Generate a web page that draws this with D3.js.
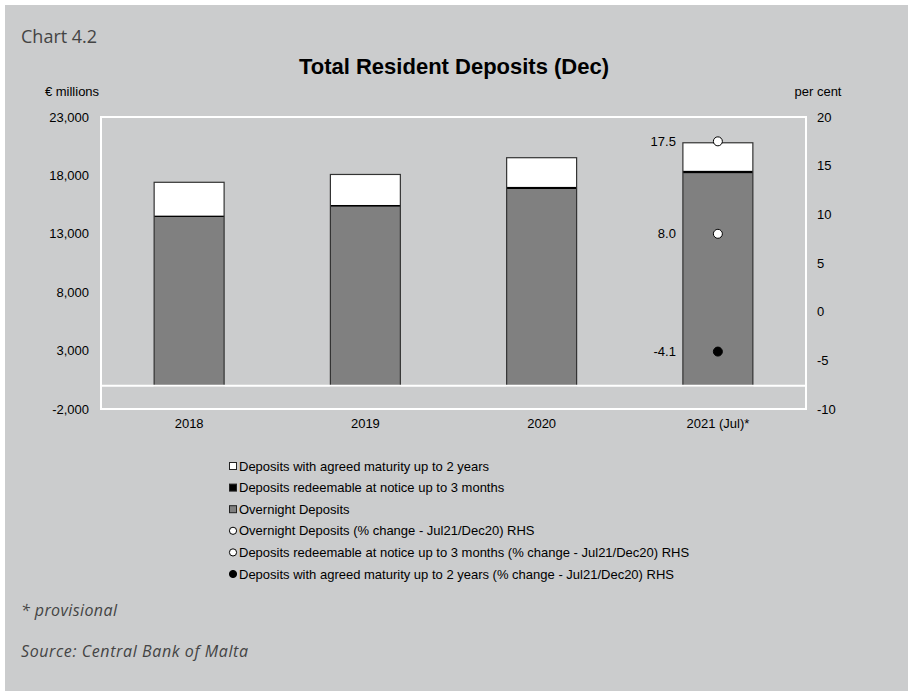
<!DOCTYPE html>
<html>
<head>
<meta charset="utf-8">
<script src="https://cdn.jsdelivr.net/npm/d3@7"></script>
<style>
  html, body { margin: 0; padding: 0; background: #ffffff; }
  svg { display: block; }
</style>
</head>
<body>
<svg id="chart" width="908" height="691"></svg>
<script>
// Categories and series (EUR millions, December positions; 2021 = July)
const categories = ["2018", "2019", "2020", "2021 (Jul)*"];
const overnight = [14440, 15320, 16835, 18182];
const redeemable = [130, 150, 190, 223];
const agreed = [2840, 2610, 2490, 2388];

// Percentage changes Jul21/Dec20 (right-hand scale), only shown for 2021
const pctOvernight = [null, null, null, 8.0];
const pctRedeemable = [null, null, null, 17.5];
const pctAgreed = [null, null, null, -4.1];

const leftTicks = [-2000, 3000, 8000, 13000, 18000, 23000];
const rightTicks = [-10, -5, 0, 5, 10, 15, 20];

const legendItems = [
  { label: "Deposits with agreed maturity up to 2 years", shape: "square", fill: "#ffffff" },
  { label: "Deposits redeemable at notice up to 3 months", shape: "square", fill: "#000000" },
  { label: "Overnight Deposits", shape: "square", fill: "#808080" },
  { label: "Overnight Deposits (% change - Jul21/Dec20) RHS", shape: "circle", fill: "#ffffff" },
  { label: "Deposits redeemable at notice up to 3 months (% change - Jul21/Dec20) RHS", shape: "circle", fill: "#ffffff" },
  { label: "Deposits with agreed maturity up to 2 years (% change - Jul21/Dec20) RHS", shape: "circle", fill: "#000000" }
];

const svg = d3.select("#chart");
const W = 908, H = 691;
const plot = { left: 101, right: 806, top: 117, bottom: 409 };
const font = "'Liberation Sans', Arial, sans-serif";
const brandFont = "'Open Sans', Lato, sans-serif";
const hyphen = s => s.replace(/\u2212/g, "-");

// Panel background
svg.append("rect").attr("x", 5).attr("y", 5).attr("width", W - 5).attr("height", H - 5)
  .attr("fill", "#cbcccd");

svg.append("text").attr("x", 21).attr("y", 43)
  .attr("font-family", brandFont).attr("font-size", 18).attr("fill", "#444444")
  .text("Chart 4.2");

svg.append("text").attr("x", 454).attr("y", 74).attr("text-anchor", "middle")
  .attr("font-family", font).attr("font-weight", "bold").attr("font-size", 22).attr("fill", "#000")
  .text("Total Resident Deposits (Dec)");

// Scales
const x = d3.scaleBand().domain(categories).range([plot.left, plot.right])
  .paddingInner(0.603).paddingOuter(0.3015);
const yL = d3.scaleLinear().domain([-2000, 23000]).range([plot.bottom, plot.top]);
const yR = d3.scaleLinear().domain([-10, 20]).range([plot.bottom, plot.top]);

// Plot frame
svg.append("rect").attr("x", plot.left).attr("y", plot.top)
  .attr("width", plot.right - plot.left).attr("height", plot.bottom - plot.top)
  .attr("fill", "none").attr("stroke", "#ffffff").attr("stroke-width", 2);

// Stacked bars
const rows = categories.map((c, i) => ({ cat: c, overnight: overnight[i], redeemable: redeemable[i], agreed: agreed[i] }));
const keys = ["overnight", "redeemable", "agreed"];
const fills = { overnight: "#808080", redeemable: "#000000", agreed: "#ffffff" };
const stacked = d3.stack().keys(keys)(rows);

svg.append("g").selectAll("g").data(stacked).join("g")
  .attr("fill", d => fills[d.key])
  .selectAll("rect").data(d => d).join("rect")
  .attr("x", d => x(d.data.cat))
  .attr("width", x.bandwidth())
  .attr("y", d => yL(d[1]))
  .attr("height", d => yL(d[0]) - yL(d[1]));

// Bar outlines
svg.append("g").selectAll("rect").data(rows).join("rect")
  .attr("x", d => x(d.cat))
  .attr("width", x.bandwidth())
  .attr("y", d => yL(d.overnight + d.redeemable + d.agreed))
  .attr("height", d => yL(0) - yL(d.overnight + d.redeemable + d.agreed))
  .attr("fill", "none").attr("stroke", "#333333").attr("stroke-width", 1.2);

// Zero line
svg.append("line").attr("x1", plot.left).attr("x2", plot.right)
  .attr("y1", yL(0)).attr("y2", yL(0))
  .attr("stroke", "#ffffff").attr("stroke-width", 2);

// Axes
const leftAxis = svg.append("g").attr("transform", `translate(${plot.left - 12},0)`)
  .call(d3.axisLeft(yL).tickValues(leftTicks).tickSize(0).tickPadding(0)
    .tickFormat(d => hyphen(d3.format(",")(d))));
const rightAxis = svg.append("g").attr("transform", `translate(${plot.right + 11},0)`)
  .call(d3.axisRight(yR).tickValues(rightTicks).tickSize(0).tickPadding(0)
    .tickFormat(d => hyphen(d3.format("d")(d))));
const bottomAxis = svg.append("g").attr("transform", `translate(0,${plot.bottom + 10})`)
  .call(d3.axisBottom(x).tickSize(0).tickPadding(0));
[leftAxis, rightAxis, bottomAxis].forEach(g => {
  g.select(".domain").remove();
  g.selectAll("text").attr("font-family", font).attr("font-size", 13).attr("fill", "#000");
});
bottomAxis.selectAll("text").attr("dy", "0.71em");

svg.append("text").attr("x", 72).attr("y", 96).attr("text-anchor", "middle")
  .attr("font-family", font).attr("font-size", 13).text("€ millions");
svg.append("text").attr("x", 818).attr("y", 96).attr("text-anchor", "middle")
  .attr("font-family", font).attr("font-size", 13).text("per cent");

// Percentage change markers with value labels
const pointSeries = [
  { values: pctRedeemable, fill: "#ffffff" },
  { values: pctOvernight, fill: "#ffffff" },
  { values: pctAgreed, fill: "#000000" }
];
const pts = [];
pointSeries.forEach(s => s.values.forEach((v, i) => {
  if (v !== null) pts.push({ cat: categories[i], v: v, fill: s.fill });
}));
const cx = c => x(c) + x.bandwidth() / 2;
svg.append("g").selectAll("circle").data(pts).join("circle")
  .attr("cx", d => cx(d.cat)).attr("cy", d => yR(d.v)).attr("r", 4.5)
  .attr("fill", d => d.fill).attr("stroke", "#000").attr("stroke-width", 1);
svg.append("g").selectAll("text").data(pts).join("text")
  .attr("x", d => x(d.cat) - 7).attr("y", d => yR(d.v) + 4.5)
  .attr("text-anchor", "end").attr("font-family", font).attr("font-size", 13).attr("fill", "#000")
  .text(d => hyphen(d3.format(".1f")(d.v)));

// Legend
const lg = svg.append("g").attr("transform", "translate(233,466)");
const item = lg.selectAll("g").data(legendItems).join("g")
  .attr("transform", (d, i) => `translate(0,${i * 21.6})`);
item.each(function(d) {
  const g = d3.select(this);
  if (d.shape === "square") {
    g.append("rect").attr("x", -3.5).attr("y", -3.5).attr("width", 7).attr("height", 7)
      .attr("fill", d.fill).attr("stroke", "#222").attr("stroke-width", 1);
  } else {
    g.append("circle").attr("r", 3.6).attr("fill", d.fill).attr("stroke", "#000").attr("stroke-width", 1);
  }
  g.append("text").attr("x", 6).attr("y", 4.6)
    .attr("font-family", font).attr("font-size", 13).attr("fill", "#000").text(d.label);
});

// Footnotes
svg.append("text").attr("x", 21).attr("y", 616)
  .attr("font-family", brandFont).attr("font-style", "italic").attr("font-size", 16)
  .attr("letter-spacing", 0.4).attr("fill", "#444444")
  .text("* provisional");
svg.append("text").attr("x", 21).attr("y", 657)
  .attr("font-family", brandFont).attr("font-style", "italic").attr("font-size", 16)
  .attr("letter-spacing", 0.6).attr("fill", "#444444")
  .text("Source: Central Bank of Malta");
</script>
</body>
</html>
